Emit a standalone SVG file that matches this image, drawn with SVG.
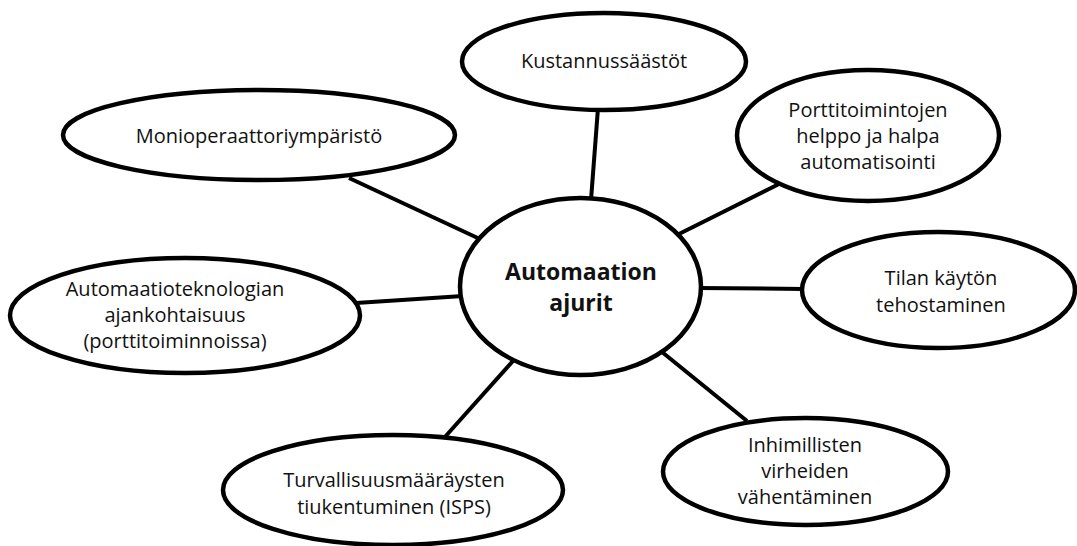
<svg xmlns="http://www.w3.org/2000/svg" width="1077" height="546" viewBox="0 0 1077 546">
<style>
.n{fill:#fff;stroke:#000;stroke-width:4.5}
.c line{stroke:#000;stroke-width:4}
text{font-family:"Open Sans","Liberation Sans",sans-serif;font-size:20px;fill:#111;text-anchor:middle}
.b{font-weight:bold;font-size:23px}
</style>
<rect width="1077" height="546" fill="#fff"/>
<g id="connectors" class="c">
<line x1="598" y1="108" x2="591" y2="200"/>
<line x1="779" y1="184" x2="679" y2="234"/>
<line x1="698" y1="288" x2="804" y2="289"/>
<line x1="662" y1="352" x2="747" y2="421"/>
<line x1="513" y1="361" x2="444" y2="438"/>
<line x1="356" y1="303" x2="463" y2="296"/>
<line x1="349" y1="178" x2="482" y2="240"/>
</g>
<g id="center">
<ellipse class="n" cx="580.5" cy="286.5" rx="120.5" ry="88.5"/>
<text class="b" x="581" y="280">Automaation</text>
<text class="b" x="581" y="311">ajurit</text>
</g>
<g id="kustannus">
<ellipse class="n" cx="604" cy="61.5" rx="142" ry="48.5"/>
<text x="604" y="68">Kustannussäästöt</text>
</g>
<g id="porttitoiminnot">
<ellipse class="n" cx="868" cy="135.5" rx="131" ry="65.5"/>
<text x="868" y="117">Porttitoimintojen</text>
<text x="868" y="143">helppo ja halpa</text>
<text x="868" y="169">automatisointi</text>
</g>
<g id="tilan">
<ellipse class="n" cx="938.5" cy="290" rx="136.5" ry="58"/>
<text x="941" y="285">Tilan käytön</text>
<text x="941" y="312">tehostaminen</text>
</g>
<g id="inhimilliset">
<ellipse class="n" cx="805.5" cy="471.5" rx="142.5" ry="53.5"/>
<text x="805" y="452">Inhimillisten</text>
<text x="805" y="478">virheiden</text>
<text x="805" y="504">vähentäminen</text>
</g>
<g id="turvallisuus">
<ellipse class="n" cx="393" cy="490" rx="170" ry="55"/>
<text x="394" y="487">Turvallisuusmääräysten</text>
<text x="394" y="514">tiukentuminen (ISPS)</text>
</g>
<g id="automaatioteknologia">
<ellipse class="n" cx="185" cy="315.5" rx="175" ry="57.5"/>
<text x="175" y="296">Automaatioteknologian</text>
<text x="175" y="322">ajankohtaisuus</text>
<text x="175" y="348">(porttitoiminnoissa)</text>
</g>
<g id="monioperaattori">
<ellipse class="n" cx="259" cy="135" rx="196" ry="45"/>
<text x="259" y="143">Monioperaattoriympäristö</text>
</g>
</svg>
